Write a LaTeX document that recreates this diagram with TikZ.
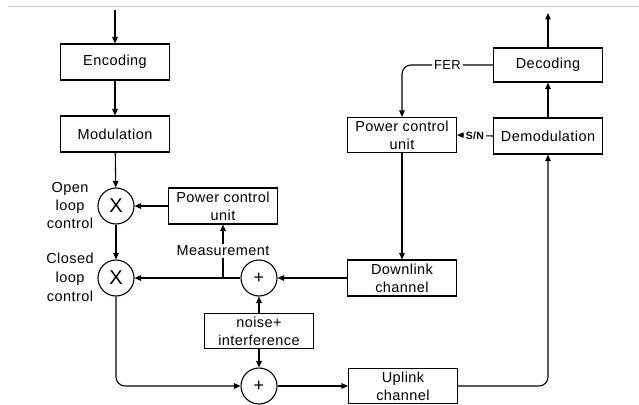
\documentclass[tikz,border=0pt]{standalone}
\usepackage{fontspec}
\setmainfont{Liberation Sans}[LetterSpace=3]
\usetikzlibrary{arrows.meta}
\begin{document}
\begin{tikzpicture}[x=1pt,y=-1pt,
  font=\fontsize{14.5}{18}\selectfont,
  every path/.style={line width=1.1pt},
  arr/.style={-{Triangle[length=6.5pt,width=5.5pt]}},
  blk/.style={draw, rectangle, minimum width=109pt, minimum height=36pt, inner sep=1pt, align=center},
  junc/.style={draw, circle, minimum size=36pt, inner sep=0pt},
  lbl/.style={align=center, inner sep=1pt}]
\useasboundingbox (0,0) rectangle (639,404);
\draw[black!20, line width=1pt] (8,7) -- (639,7);

% left column
\node[blk] (enc) at (115,62) {Encoding};
\node[blk] (mod) at (115,134) {Modulation};
\node[junc, font=\fontsize{20}{20}\selectfont] (x1) at (116,206) {X};
\node[junc, font=\fontsize{20}{20}\selectfont] (x2) at (116,278) {X};
\node[lbl] (open) at (70,206) {Open\\loop\\control};
\node[lbl, font=\fontsize{14.5}{19}\selectfont] (closed) at (70,277) {Closed\\loop\\control};
\node[blk] (pcu1) at (223,206) {Power control\\unit};
\node[lbl] (meas) at (223,251) {Measurement};
\node[junc, font=\fontsize{18}{18}\selectfont] (p1) at (259,278) {+};
\node[blk, minimum height=35pt] (noise) at (259,331) {noise+\\interference};
\node[junc, font=\fontsize{18}{18}\selectfont] (p2) at (259,386) {+};

% right column
\node[blk, minimum height=35pt] (up) at (403,386) {Uplink\\channel};
\node[blk] (down) at (402,278) {Downlink\\channel};
\node[blk, minimum height=35pt] (pcu2) at (402,135) {Power control\\unit};
\node[blk] (demod) at (548,136) {Demodulation};
\node[blk, minimum height=34pt] (dec) at (548,65) {Decoding};

\coordinate (in) at (115,10);
\coordinate (out) at (548,13);
\coordinate (mtap) at (223,278);

% connectors
\draw[arr] (in) -- (enc.north);
\draw[arr] (enc) -- (mod);
\draw[arr] (mod) -- (x1);
\draw[arr] (pcu1.west) -- (x1.east);
\draw[arr] (x1) -- (x2);
\draw[arr] (p1.west) -- (x2.east);
\draw[arr] (down.west) -- (p1.east);
\draw (mtap) -- (meas.south);
\draw[arr] (meas.north) -- (pcu1.south);
\draw[arr] (noise.north) -- (p1.south);
\draw[arr] (noise.south) -- (p2.north);
\draw[arr, rounded corners=9pt] (x2.south) |- (p2.west);
\draw[arr] (p2.east) -- (up.west);
\draw[arr, rounded corners=9pt] (up.east) -| (demod.south);
\draw[arr] (demod.north) -- (dec.south);
\draw[arr] (dec.north) -- (out);
\draw[arr, rounded corners=9pt] (dec.west) -- node[fill=white, inner sep=2pt, font=\fontsize{13}{13}\selectfont] {FER} (pcu2.north |- dec.west) -- (pcu2.north);
\draw[arr] (demod.west) -- node[fill=white, inner sep=1.5pt, font=\bfseries\fontsize{10.5}{10.5}\selectfont] {S/N} (pcu2.east);
\draw[arr] (pcu2.south) -- (down.north);
\end{tikzpicture}
\end{document}
